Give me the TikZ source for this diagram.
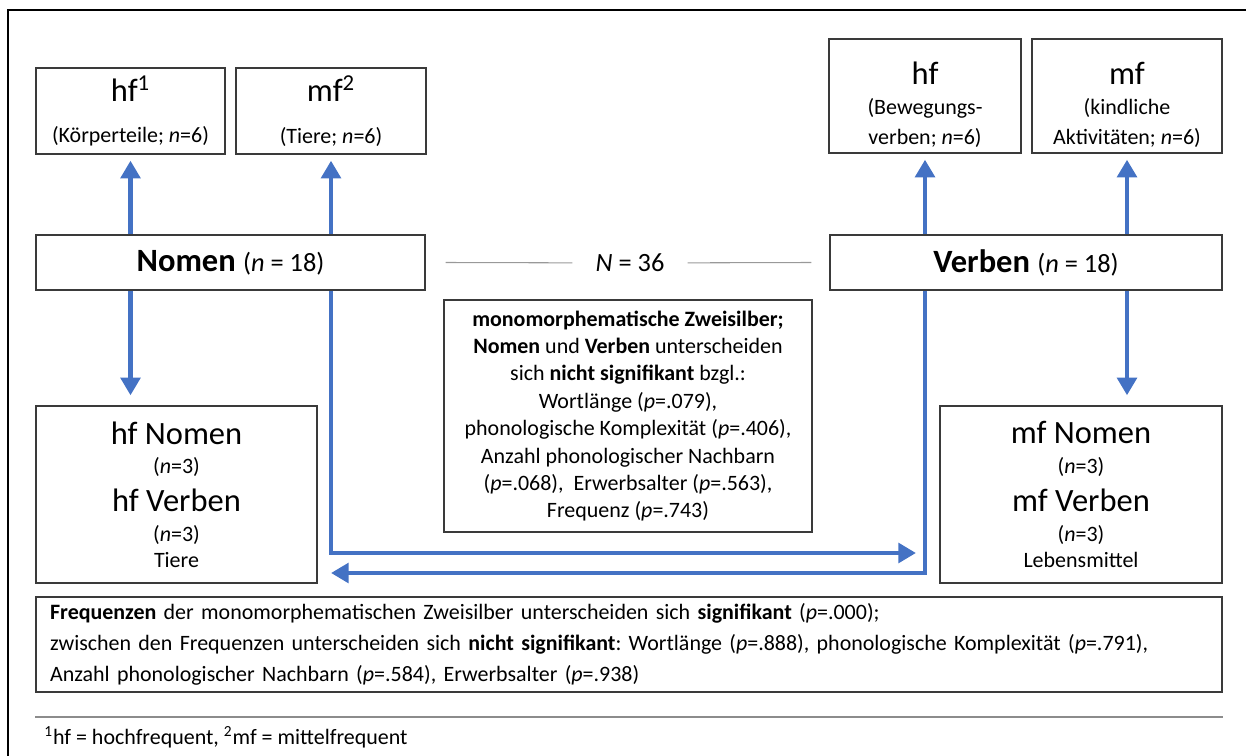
\documentclass[tikz,border=0pt]{standalone}
\usepackage{fontspec}
\setmainfont{Carlito}
\usepackage{xcolor}
\usetikzlibrary{arrows.meta,positioning,calc}
\definecolor{flowblue}{HTML}{4472C4}
\definecolor{boxgray}{HTML}{3A3A3A}
\newcommand{\Lsz}{\fontsize{18.5}{22}\selectfont}
\newcommand{\Msz}{\fontsize{15}{18}\selectfont}
\newcommand{\Ssz}{\fontsize{12.5}{15.6}\selectfont}
\frenchspacing
\tikzset{
  box/.style={draw=boxgray, line width=0.8pt, inner sep=2pt, align=center, font=\Ssz},
  flow/.style={draw=flowblue, line width=2.8pt, -{Triangle[length=10pt,width=11pt]}},
  thinrule/.style={draw=black!40, line width=0.6pt},
  noterule/.style={draw=black!45, line width=1pt}
}

\begin{document}
\begin{tikzpicture}[x=0.02cm, y=-0.02cm]
\useasboundingbox (0,0) rectangle (1246,756);
\draw[line width=0.8pt] (8,756) -- (8,10) -- (1246,10);
% word classes
\node[box, minimum width=7.78cm, minimum height=1.1cm] (nomen) at (230.5,262.5) {\Lsz\textbf{Nomen} \Msz(\textit{n} = 18)};
\node[box, minimum width=7.84cm, minimum height=1.1cm] (verben) at (1026,262.5) {\Lsz\textbf{Verben} \Msz(\textit{n} = 18)};
\node[font=\Msz, inner xsep=0.46cm] (total) at (630,263) {\textit{N} = 36};
\draw[thinrule] ($(nomen.east)+(20,0)$) -- (total);
\draw[thinrule] (total) -- ($(verben.west)+(-18,0)$);
% frequency groups
\node[box, minimum width=3.78cm, minimum height=1.72cm] (hfN) at (130.5,111) {\Lsz hf\textsuperscript{1}\\[8.2pt]\Ssz(Körperteile; \textit{n}=6)};
\node[box, minimum width=3.8cm, minimum height=1.72cm] (mfN) at (331,111) {\Lsz mf\textsuperscript{2}\\[8.2pt]\Ssz(Tiere; \textit{n}=6)};
\node[box, minimum width=3.84cm, minimum height=2.28cm] (hfV) at (925,96) {\rule{0pt}{23pt}\Lsz hf\\[1.4pt]\Ssz(Bewegungs-\\[1.4pt]\Ssz verben; \textit{n}=6)};
\node[box, minimum width=3.8cm, minimum height=2.28cm] (mfV) at (1127,96) {\rule{0pt}{23pt}\Lsz mf\\[1.4pt]\Ssz(kindliche\\[1.4pt]\Ssz Aktivitäten; \textit{n}=6)};
% mixed lists
\node[box, minimum width=5.62cm, minimum height=3.54cm] (hfmix) at (176.5,494.5) {\Lsz hf Nomen\\[1.4pt](\textit{n}=3)\\[5.9pt]\Lsz hf Verben\\[1.4pt](\textit{n}=3)\\[-0.9pt]Tiere};
\node[box, minimum width=5.64cm, minimum height=3.54cm] (mfmix) at (1081,494.5) {\Lsz mf Nomen\\[1.4pt](\textit{n}=3)\\[5.9pt]\Lsz mf Verben\\[1.4pt](\textit{n}=3)\\[-0.9pt]Lebensmittel};
\node[box, minimum width=7.36cm, minimum height=4.64cm] (info) at (628,416) {\textbf{monomorphematische Zweisilber;}\\
  \textbf{Nomen} und \textbf{Verben} unterscheiden\\
  sich \textbf{nicht signifikant} bzgl.:\\
  Wortlänge (\textit{p}=.079),\\
  phonologische Komplexität (\textit{p}=.406),\\
  Anzahl phonologischer Nachbarn\\
  (\textit{p}=.068),\ \ Erwerbsalter (\textit{p}=.563),\\
  Frequenz (\textit{p}=.743)};
\node[box, line width=1pt, align=left, text width=23.16cm, inner xsep=0.28cm, minimum height=1.9cm, font=\fontsize{12.5}{17.6}\selectfont] (freq) at (629,644.5) {\textbf{Frequenzen} der monomorphematischen Zweisilber unterscheiden sich \textbf{signifikant} (\textit{p}=.000);\\
  zwischen den Frequenzen unterscheiden sich \textbf{nicht signifikant}: Wortlänge (\textit{p}=.888), phonologische Komplexität (\textit{p}=.791),\\
  Anzahl phonologischer Nachbarn (\textit{p}=.584), Erwerbsalter (\textit{p}=.938)};
\draw[noterule] ($(freq.south west)+(0,24)$) -- ($(freq.south east)+(0,24)$);
\node[anchor=base west, font=\Ssz, inner sep=0pt] (note) at (44,744) {\textsuperscript{1}hf = hochfrequent, \textsuperscript{2}mf = mittelfrequent};
% arrows
\draw[flow] (hfN.south |- nomen.north) -- ($(hfN.south)+(0,6)$);
\draw[flow] (mfN.south |- nomen.north) -- ($(mfN.south)+(0,6)$);
\draw[flow] (hfV.south |- verben.north) -- ($(hfV.south)+(0,6)$);
\draw[flow] (mfV.south |- verben.north) -- ($(mfV.south)+(0,6)$);
\draw[flow] (hfN.south |- nomen.south) -- ($(hfN.south |- hfmix.north)+(0,-10)$);
\draw[flow] (mfV.south |- verben.south) -- ($(mfV.south |- mfmix.north)+(0,-10)$);
\coordinate (toV) at (916,553);
\coordinate (toN) at (331,573);
\draw[flow] (mfN.south |- nomen.south) |- (toV);
\draw[flow] (hfV.south |- verben.south) |- (toN);
\end{tikzpicture}
\end{document}
